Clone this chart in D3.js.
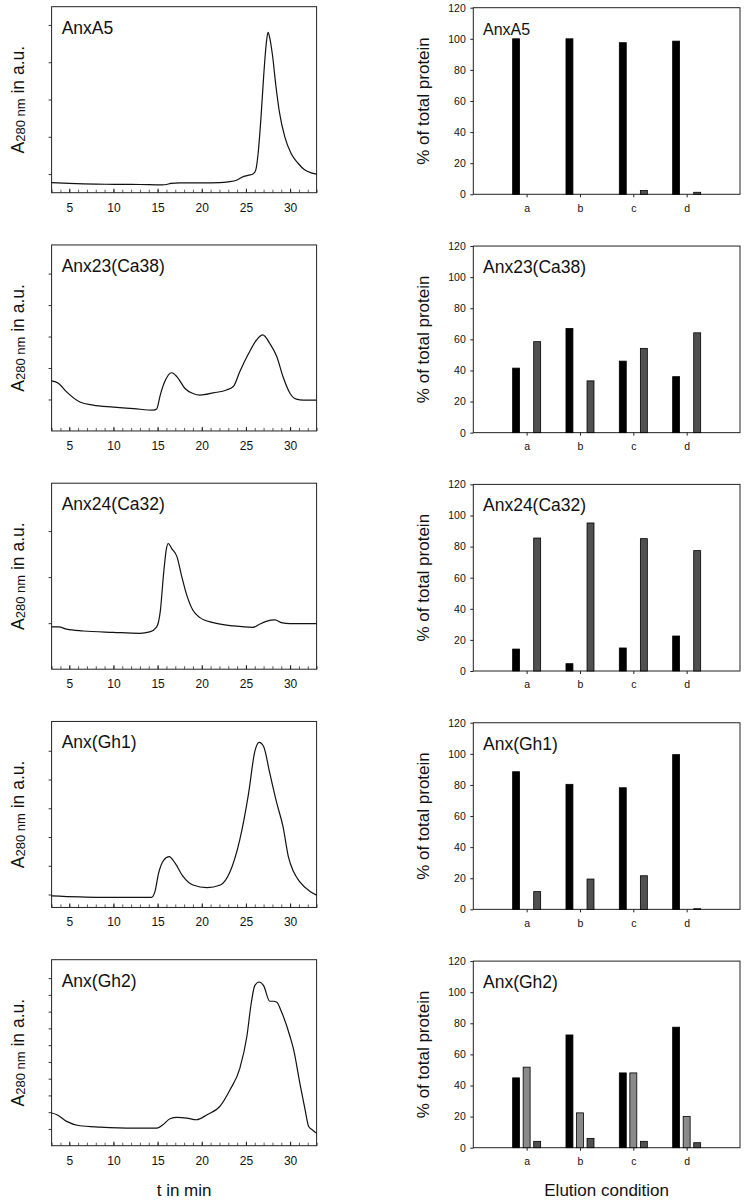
<!DOCTYPE html>
<html><head><meta charset="utf-8">
<script src="https://cdn.jsdelivr.net/npm/d3@7"></script>
<style>
body{margin:0;background:#fff}
svg{display:block}
text{font-family:"Liberation Sans",Arial,Helvetica,sans-serif;fill:#111}
</style>
</head><body>
<svg id="chart" width="744" height="1200"></svg>
<script>
// ---------------- data ----------------
const proteins = ["AnxA5", "Anx23(Ca38)", "Anx24(Ca32)", "Anx(Gh1)", "Anx(Gh2)"];
const timeTicks = [5, 10, 15, 20, 25, 30];
const minorTimeTicks = [3,4,5,6,7,8,9,10,11,12,13,14,15,16,17,18,19,20,21,22,23,24,25,26,27,28,29,30,31,32,33];
const categories = ["a", "b", "c", "d"];
const percentTicks = [0, 20, 40, 60, 80, 100, 120];

// absorbance traces [t (min), A280 (a.u.)]
const traceAnxA5 = [[3,-0.23],[5,-0.25],[8,-0.27],[10,-0.275],[13,-0.28],[15.5,-0.29],[16,-0.28],[16.5,-0.25],[17.5,-0.235],[20,-0.235],[22,-0.23],[23,-0.21],[24,-0.16],[24.7,-0.07],[25.3,-0.03],[25.8,0.0],[26.1,0.1],[26.4,0.6],[26.7,1.5],[27.0,2.6],[27.3,3.5],[27.5,3.8],[27.7,3.65],[28.0,3.2],[28.4,2.35],[28.8,1.65],[29.4,1.0],[30.1,0.56],[30.9,0.29],[31.6,0.12],[32.3,0.04],[33,0.0]];
const traceAnx23 = [[3,1.59],[3.8,1.51],[4.7,1.24],[6.2,0.92],[7.7,0.82],[10,0.76],[12.3,0.71],[14.5,0.66],[14.9,0.70],[15.3,1.14],[15.8,1.56],[16.6,1.85],[17.2,1.72],[18.1,1.35],[19,1.19],[19.8,1.14],[21.3,1.21],[22.8,1.30],[23.6,1.42],[24.3,1.88],[25.3,2.46],[26.2,2.89],[26.9,3.05],[27.7,2.78],[28.5,2.36],[29.2,1.72],[30,1.19],[30.7,1.01],[31.5,0.98],[33,0.98]];
const traceAnx24 = [[3,0.92],[3.8,0.92],[4.7,0.87],[6.6,0.83],[10,0.80],[13,0.78],[14.1,0.81],[14.9,0.92],[15.3,1.25],[15.7,2.12],[16.0,2.62],[16.2,2.73],[16.6,2.62],[17.2,2.44],[17.7,2.04],[18.3,1.61],[19,1.28],[19.8,1.12],[21.3,1.01],[23.6,0.94],[25.8,0.91],[26.4,0.96],[27.3,1.04],[28.3,1.07],[29,1.01],[30,0.99],[33,0.99]];
const traceAnxGh1 = [[3,-0.05],[8.5,-0.10],[14.3,-0.10],[14.7,0.10],[15.1,0.73],[15.7,1.20],[16.3,1.32],[17,1.08],[17.9,0.62],[19,0.33],[20.6,0.24],[22.1,0.33],[23.2,0.79],[24.3,1.90],[25.3,3.52],[26,4.97],[26.5,5.29],[27,5.15],[27.7,4.22],[28.5,3.17],[29.2,2.36],[29.8,1.32],[30.4,0.79],[31.1,0.44],[32.3,0.10],[33,-0.02]];
const traceAnxGh2 = [[3,1.95],[3.6,1.85],[4.7,1.45],[6.2,1.19],[8.5,1.11],[12.3,1.05],[14.9,1.05],[15.6,1.25],[16.4,1.61],[17.2,1.69],[18.3,1.65],[19.4,1.55],[20.6,1.85],[22.1,2.38],[23.2,3.34],[24.3,4.6],[25.1,6.5],[25.6,8.5],[26.0,9.55],[26.5,9.77],[27.0,9.55],[27.7,8.62],[28.1,8.62],[28.5,8.56],[29.0,8.02],[30.0,6.5],[30.4,5.73],[31.1,3.74],[31.7,2.14],[32.1,1.15],[32.6,0.91],[33,0.75]];
const traces = [traceAnxA5, traceAnx23, traceAnx24, traceAnxGh1, traceAnxGh2];
const absDomains = [[-0.5,4.49],[0,5.91],[0,4.04],[-0.45,6.02],[0,11.1]];
const absTicks = [[0,1,2,3,4],[1,2,3,4,5],[1,2,3],[0,1,2,3,4,5],[1,2,3,4,5,6,7,8,9,10]];

// % of total protein per elution condition a..d (black, light grey, dark grey)
const blackAnxA5 = [100, 100, 97.5, 98.5];
const lightAnxA5 = [0, 0, 0, 0];
const darkAnxA5  = [0, 0, 2.4, 1.3];
const blackAnx23 = [41.5, 67, 46, 36];
const lightAnx23 = [0, 0, 0, 0];
const darkAnx23  = [58.5, 33.3, 54.2, 64.2];
const blackAnx24 = [14.1, 4.7, 14.8, 22.5];
const lightAnx24 = [0, 0, 0, 0];
const darkAnx24  = [85.5, 95.2, 85.1, 77.4];
const blackGh1 = [88.5, 80.4, 78.2, 99.5];
const lightGh1 = [0, 0, 0, 0];
const darkGh1  = [11.4, 19.5, 21.6, 0.4];
const blackGh2 = [44.9, 72.5, 48.1, 77.5];
const lightGh2 = [51.8, 22.4, 48.1, 20.1];
const darkGh2  = [4.1, 6.0, 4.1, 3.2];
const barSets = [
  [blackAnxA5, lightAnxA5, darkAnxA5],
  [blackAnx23, lightAnx23, darkAnx23],
  [blackAnx24, lightAnx24, darkAnx24],
  [blackGh1, lightGh1, darkGh1],
  [blackGh2, lightGh2, darkGh2]
];
const seriesColors = ["#000000", "#8a8a8a", "#505050"];

// ---------------- layout ----------------
const svg = d3.select("#chart");
const L = {x0: 51.6, x1: 316.6, top0: 6.7, h: 186, step: 238.25};
const R = {x0: 473.3, x1: 740, bot0: 194.3, h: 186.6, step: 238.35};
const font = "'Liberation Sans',Arial,sans-serif";

const xT = d3.scaleLinear().domain([3, 33]).range([L.x0, L.x1]);
const line = d3.line().curve(d3.curveMonotoneX);

traces.forEach((tr, i) => {
  const top = L.top0 + L.step * i, bot = top + L.h;
  const y = d3.scaleLinear().domain(absDomains[i]).range([bot, top]);
  const g = svg.append("g");

  const gm = g.append("g").attr("transform", `translate(0,${bot})`)
    .call(d3.axisBottom(xT).tickValues(minorTimeTicks).tickSizeInner(-3).tickSizeOuter(0).tickFormat(""));
  gm.select(".domain").remove();
  gm.selectAll("line").attr("stroke", "#333").attr("stroke-width", 0.8);

  const ga = g.append("g").attr("transform", `translate(0,${bot})`)
    .call(d3.axisBottom(xT).tickValues(timeTicks).tickSizeInner(-4).tickSizeOuter(0).tickPadding(10.5).tickFormat(d3.format("d")));
  ga.select(".domain").remove();
  ga.selectAll("line").attr("stroke", "#222");
  ga.selectAll("text").attr("font-size", 12).attr("font-family", font).attr("fill", "#111");

  const gy = g.append("g").attr("transform", `translate(${L.x0},0)`)
    .call(d3.axisLeft(y).tickValues(absTicks[i]).tickSizeInner(3).tickSizeOuter(0).tickFormat(""));
  gy.select(".domain").remove();
  gy.selectAll("line").attr("stroke", "#333");

  g.append("rect").attr("x", L.x0).attr("y", top).attr("width", L.x1 - L.x0).attr("height", L.h)
    .attr("fill", "none").attr("stroke", "#222").attr("stroke-width", 1);

  g.append("path").attr("d", line(tr.map(d => [xT(d[0]), y(d[1])])))
    .attr("fill", "none").attr("stroke", "#111").attr("stroke-width", 1.2);

  g.append("text").attr("x", 61.7).attr("y", top + 27).attr("font-size", 17.5).text(proteins[i]);

  const yl = g.append("text").attr("transform", `translate(24,${(top + bot) / 2}) rotate(-90)`)
    .attr("text-anchor", "middle").attr("font-size", 17.5);
  yl.append("tspan").text("A");
  yl.append("tspan").attr("font-size", 13).attr("dy", 1).text("280 nm");
  yl.append("tspan").attr("dy", -1).text(" in a.u.");
});

const xC = d3.scalePoint().domain(categories).range([R.x0, R.x1]).padding(1);
const xS = d3.scaleBand().domain([0, 1, 2]).range([-15.8, 15.8]).paddingInner(0.34).paddingOuter(0.17);

barSets.forEach((sets, i) => {
  const bot = R.bot0 + R.step * i, top = bot - R.h;
  const y = d3.scaleLinear().domain([0, 120]).range([bot, top]);
  const g = svg.append("g");

  const gy = g.append("g").attr("transform", `translate(${R.x0},0)`)
    .call(d3.axisLeft(y).tickValues(percentTicks).tickSizeInner(3).tickSizeOuter(0).tickPadding(4.5));
  gy.select(".domain").remove();
  gy.selectAll("line").attr("stroke", "#222");
  gy.selectAll("text").attr("font-size", 10.5).attr("font-family", font).attr("fill", "#111");

  const gx = g.append("g").attr("transform", `translate(0,${bot})`)
    .call(d3.axisBottom(xC).tickSizeInner(3).tickSizeOuter(0).tickPadding(7));
  gx.select(".domain").remove();
  gx.selectAll("line").attr("stroke", "#222");
  gx.selectAll("text").attr("font-size", 10.5).attr("font-family", font).attr("fill", "#111");

  g.append("rect").attr("x", R.x0).attr("y", top).attr("width", R.x1 - R.x0).attr("height", R.h)
    .attr("fill", "none").attr("stroke", "#222").attr("stroke-width", 1);

  sets.forEach((vals, s) => {
    g.append("g").selectAll("rect")
      .data(vals.map((v, j) => ({v, c: categories[j]})).filter(d => d.v > 0))
      .join("rect")
      .attr("x", d => xC(d.c) + xS(s))
      .attr("width", xS.bandwidth())
      .attr("y", d => y(d.v))
      .attr("height", d => y(0) - y(d.v))
      .attr("fill", seriesColors[s])
      .attr("stroke", "#000").attr("stroke-width", 0.8);
  });

  g.append("text").attr("x", 483).attr("y", top + 26.8)
    .attr("font-size", i === 0 ? 16 : 17.5).text(proteins[i]);

  g.append("text").attr("transform", `translate(429,${(top + bot) / 2}) rotate(-90)`)
    .attr("text-anchor", "middle").attr("font-size", 17).text("% of total protein");
});

svg.append("text").attr("x", (L.x0 + L.x1) / 2).attr("y", 1196).attr("text-anchor", "middle")
  .attr("font-size", 17).text("t in min");
svg.append("text").attr("x", (R.x0 + R.x1) / 2).attr("y", 1196).attr("text-anchor", "middle")
  .attr("font-size", 17).text("Elution condition");
</script>
</body></html>
